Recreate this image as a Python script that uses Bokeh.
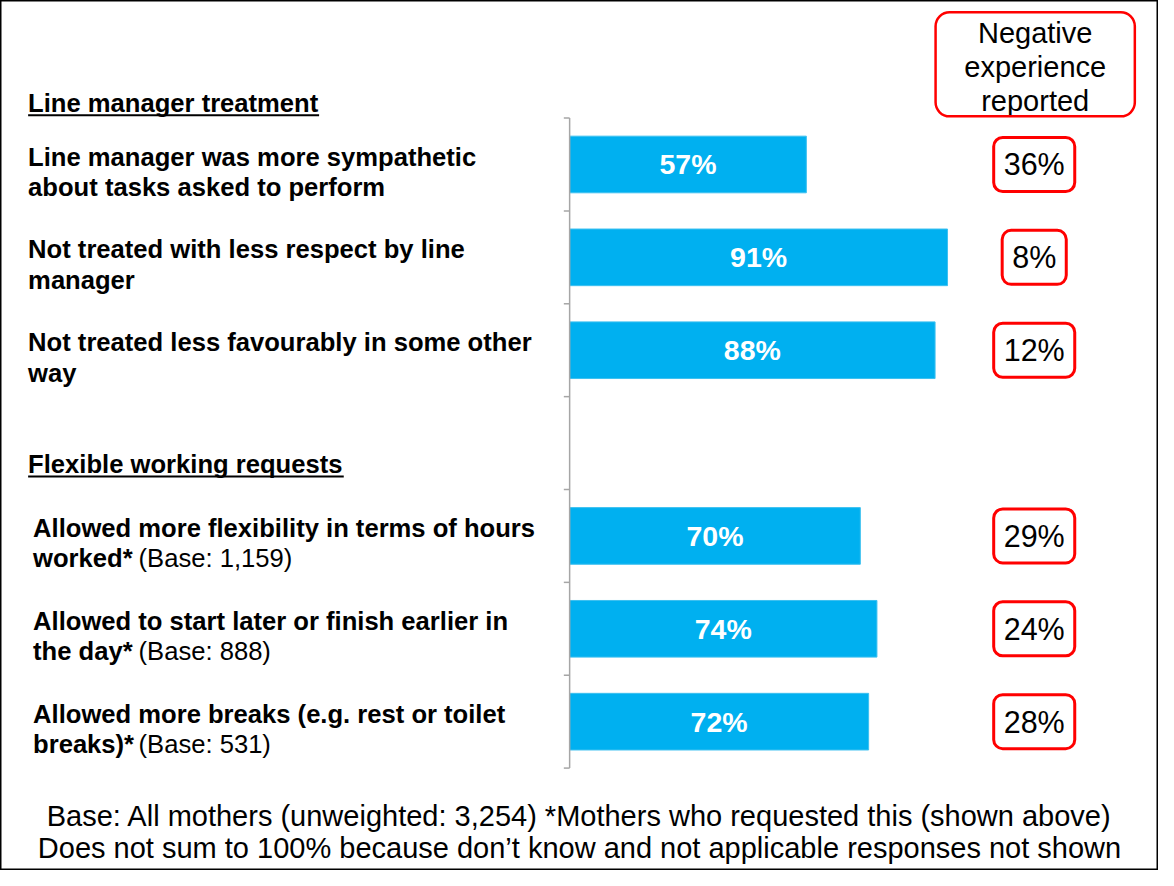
from bokeh.plotting import figure
from bokeh.models import Range1d, Label, BoxAnnotation
from bokeh.embed import file_html
from bokeh.resources import INLINE
from bokeh.core.properties import value

# ---------------- data ----------------
slots = [0, 1, 2, 4, 5, 6]
label_line1 = [
    "Line manager was more sympathetic",
    "Not treated with less respect by line",
    "Not treated less favourably in some other",
    "Allowed more flexibility in terms of hours",
    "Allowed to start later or finish earlier in",
    "Allowed more breaks (e.g. rest or toilet",
]
label_line2 = [
    "about tasks asked to perform",
    "manager",
    "way",
    "worked*",
    "the day*",
    "breaks)*",
]
label_base = ["", "", "", "(Base: 1,159)", "(Base: 888)", "(Base: 531)"]
positive = [57, 91, 88, 70, 74, 72]
negative = [36, 8, 12, 29, 24, 28]
sections = ["Line manager treatment", "Flexible working requests"]
section_slots = [-0.666, 3.225]
header = ["Negative", "experience", "reported"]
footer = [
    "Base: All mothers (unweighted: 3,254) *Mothers who requested this (shown above)",
    "Does not sum to 100% because don\u2019t know and not applicable responses not shown",
]

# ---------------- layout helpers ----------------
X0, PXP = 577, 4.21      # reference px of 0% and px per percent
Y0, SLOT = 167, 94.57    # reference px of first slot centre and slot pitch
def dx(px):
    return (px - X0) / PXP
def dy(py):
    return (py - Y0) / SLOT

W, H = 1158, 870
FONT = "Liberation Sans"
FS = "25.6px"
FS_BAR = "28.5px"
FS2 = "29px"
FS_NUM = "30.5px"
BLUE = "#00B0F0"
RED = "#FF0000"

p = figure(width=W, height=H,
           x_range=Range1d(dx(0), dx(1174)),
           y_range=Range1d(dy(886), dy(0)),
           x_axis_type=None, y_axis_type=None,
           output_backend="svg", toolbar_location=None, min_border=0)
p.grid.visible = False
p.outline_line_color = "black"
p.outline_line_width = 2
p.background_fill_color = "white"
p.border_fill_color = "white"

# bars
p.hbar(y=slots, left=0, right=positive, height=0.61,
       fill_color=BLUE, line_color="#3CC0F0", line_width=1)
p.text(x=[v / 2 for v in positive], y=slots, text=[f"{v}%" for v in positive],
       text_color="white", text_font=value(FONT), text_font_style="bold",
       text_font_size=FS_BAR, text_align="center", text_baseline="middle")

# axis line and ticks
bounds = [s - 0.5 for s in range(8)]
p.segment(x0=[0], y0=[bounds[0]], x1=[0], y1=[bounds[-1]],
          line_color="#A6A6A6", line_width=1.5)
p.segment(x0=[-1.4] * len(bounds), y0=bounds, x1=[0] * len(bounds), y1=bounds,
          line_color="#A6A6A6", line_width=1.5)

# category labels
lx = [dx(33) if b else dx(28) for b in label_base]
p.text(x=lx, y=[s - 0.085 for s in slots], text=label_line1,
       text_color="black", text_font=value(FONT), text_font_style="bold",
       text_font_size=FS, text_align="left", text_baseline="middle")
p.text(x=lx, y=[s + 0.243 for s in slots], text=label_line2,
       text_color="black", text_font=value(FONT), text_font_style="bold",
       text_font_size=FS, text_align="left", text_baseline="middle")
p.text(x=[dx(140)] * len(slots), y=[s + 0.243 for s in slots], text=label_base,
       text_color="black", text_font=value(FONT), text_font_style="normal",
       text_font_size=FS, text_align="left", text_baseline="middle")

# section headings
p.text(x=[dx(28)] * 2, y=section_slots, text=sections,
       text_color="black", text_font=value(FONT), text_font_style="bold",
       text_font_size=FS, text_align="left", text_baseline="middle")
p.segment(x0=[dx(28)] * 2, x1=[dx(323), dx(348)],
          y0=[s + 0.135 for s in section_slots], y1=[s + 0.135 for s in section_slots],
          line_color="black", line_width=2)

# header box
p.add_layout(BoxAnnotation(left=dx(948), right=dx(1150), top=dy(12), bottom=dy(118),
                           fill_color=None, fill_alpha=0,
                           line_color=RED, line_alpha=1, line_width=2.5,
                           border_radius=14))
p.text(x=[dx(1049)] * 3, y=[dy(33), dy(68), dy(102)], text=header,
       text_color="black", text_font=value(FONT), text_font_size=FS2,
       text_align="center", text_baseline="middle")

# negative experience boxes
for s, n in zip(slots, negative):
    p.add_layout(Label(x=dx(1048), y=s, text=f"{n}%",
                       text_font=FONT, text_font_size=FS_NUM, text_color="black",
                       text_align="center", text_baseline="middle",
                       background_fill_color="white",
                       border_line_color=RED, border_line_width=3,
                       border_radius=9, padding=10))

# footer
p.text(x=[dx(587)] * 2, y=[dy(831), dy(863)], text=footer,
       text_color="black", text_font=value(FONT), text_font_size=FS2,
       text_align="center", text_baseline="middle")

open("out.html", "w").write(file_html(p, INLINE))
